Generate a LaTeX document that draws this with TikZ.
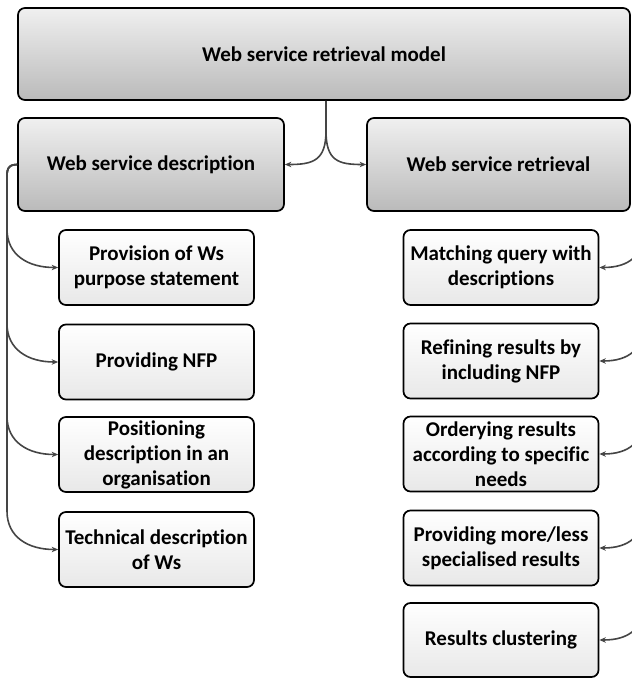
\documentclass[tikz,border=0pt]{standalone}
\usepackage{fontspec}
\setmainfont[Ligatures={NoCommon}]{Carlito}
\usetikzlibrary{arrows.meta,calc}
\definecolor{conncol}{HTML}{454545}
\tikzset{
  box/.style={draw=black, line width=1.7pt, rounded corners=7pt, inner sep=2pt,
    align=center, font=\bfseries\fontsize{21}{25}\selectfont},
  bigbox/.style={box, top color=white!94!black, bottom color=white!73!black},
  leafbox/.style={box, top color=white, bottom color=white!91!black,
    minimum width=195pt, minimum height=75pt},
  conn/.style={draw=conncol, line width=1.6pt, -{Stealth[length=6.5pt,width=5.5pt]}},
}
\begin{document}
\begin{tikzpicture}[x=1pt,y=-1pt]
\useasboundingbox (0,0) rectangle (632,678);
\clip (0,0) rectangle (632,678);
% top level
\node[bigbox, minimum width=612pt, minimum height=92pt] (top) at (324,54) {Web service retrieval model};
\node[bigbox, minimum width=266pt, minimum height=93pt] (wsd) at (151,164.5) {Web service description};
\node[bigbox, minimum width=263pt, minimum height=93pt] (wsr) at (498.5,164.5) {Web service retrieval};
% left children
\node[leafbox] (p1) at (156.5,267.5) {Provision of Ws\\purpose statement};
\node[leafbox] (p2) at (156.5,362) {Providing NFP};
\node[leafbox] (p3) at (156.5,454.5) {Positioning\\description in an\\organisation};
\node[leafbox] (p4) at (156.5,549.5) {Technical description\\of Ws};
% right children
\node[leafbox] (r1) at (501,267.5) {Matching query with\\descriptions};
\node[leafbox] (r2) at (501,361) {Refining results by\\including NFP};
\node[leafbox] (r3) at (501,454) {Orderying results\\according to specific\\needs};
\node[leafbox] (r4) at (501,548) {Providing more/less\\specialised results};
\node[leafbox, minimum height=74pt] (r5) at (501,640) {Results clustering};
% connectors from top
\coordinate (split) at ($(top.south)+(2,30)$);
\draw[conn] ($(top.south)+(2,0)$) -- (split) .. controls +(0,30) and +(28,0) .. (wsd.east);
\draw[conn] ($(top.south)+(2,0)$) -- (split) .. controls +(0,30) and +(-28,0) .. (wsr.west);
% left branch
\coordinate (lv) at (7,0);
\coordinate (lbend) at (7,188);
\foreach \c in {p1,p2,p3,p4}{
  \draw[conn] (wsd.west) .. controls +(-12,0) and +(0,-16) .. (lbend)
    -- (lv |- \c.north) .. controls +(0,26) and +(-30,0) .. (\c.west);
}
% right branch (source beyond the right edge)
\coordinate (rv) at (644,0);
\foreach \c in {r1,r2,r3,r4,r5}{
  \draw[conn] ($(rv |- \c.north)+(0,-10)$) -- (rv |- \c.north) .. controls +(0,26) and +(30,0) .. (\c.east);
}
\end{tikzpicture}
\end{document}
